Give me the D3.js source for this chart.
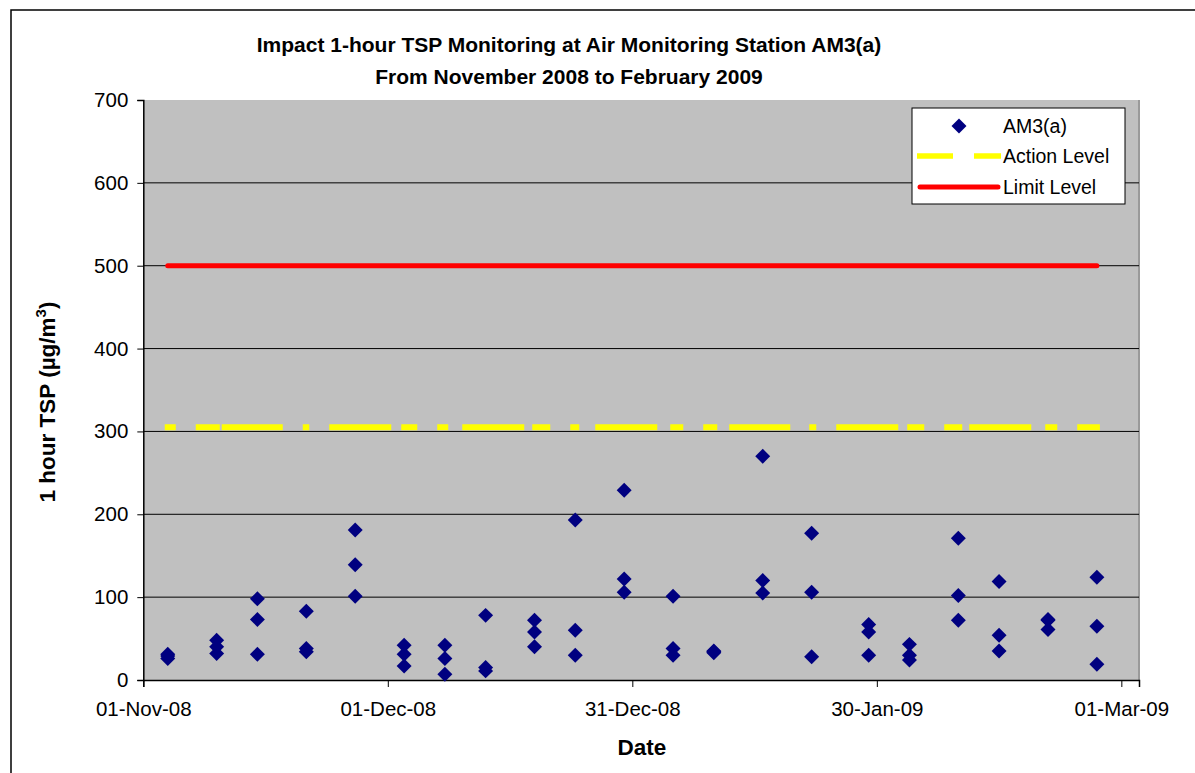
<!DOCTYPE html>
<html>
<head>
<meta charset="utf-8">
<script src="https://cdnjs.cloudflare.com/ajax/libs/d3/7.8.5/d3.min.js"></script>
<style>
  body { margin: 0; background: #fff; }
  text { font-family: Arial, "Liberation Sans", sans-serif; }
</style>
</head>
<body>
<div id="chart"></div>
<script>
// sampling dates (3 one-hour readings per day)
const dates = ["2008-11-04", "2008-11-10", "2008-11-15", "2008-11-21", "2008-11-27",
  "2008-12-03", "2008-12-08", "2008-12-13", "2008-12-19", "2008-12-24", "2008-12-30",
  "2009-01-05", "2009-01-10", "2009-01-16", "2009-01-22", "2009-01-29",
  "2009-02-03", "2009-02-09", "2009-02-14", "2009-02-20", "2009-02-26"];
const reading1 = [31, 48, 98, 83, 181, 42, 42, 78, 72, 193, 229, 101, 35, 270, 177, 67, 43, 171, 119, 73, 124];
const reading2 = [29, 40, 73, 38, 139, 31, 26, 15, 58, 60, 122, 38, 34, 120, 106, 58, 30, 102, 54, 72, 65];
const reading3 = [26, 32, 31, 34, 101, 17, 7, 11, 40, 30, 106, 30, 33, 105, 28, 30, 24, 72, 35, 61, 19];
const actionLevel = 305;
const limitLevel = 500;
const yTicks = [0, 100, 200, 300, 400, 500, 600, 700];
const xTicks = ["2008-11-01", "2008-12-01", "2008-12-31", "2009-01-30", "2009-03-01"];

const W = 1195, H = 773;
const margin = {left: 143.3, top: 100, right: 1139, bottom: 680};

const svg = d3.select("#chart").append("svg")
    .attr("width", W)
    .attr("height", H);

// outer frame
svg.append("rect")
    .attr("x", 11).attr("y", 10)
    .attr("width", 1300).attr("height", 900)
    .attr("fill", "#fff")
    .attr("stroke", "#000")
    .attr("stroke-width", 1.5);

const parse = d3.utcParse("%Y-%m-%d");
const x = d3.scaleUtc()
    .domain([parse("2008-11-01"), new Date(Date.UTC(2009, 2, 3, 4))])
    .range([margin.left, margin.right]);
const y = d3.scaleLinear()
    .domain([0, 700])
    .range([margin.bottom, margin.top]);

// plot area
svg.append("rect")
    .attr("x", margin.left).attr("y", margin.top)
    .attr("width", margin.right - margin.left)
    .attr("height", margin.bottom - margin.top)
    .attr("fill", "#c0c0c0");
svg.append("line")
    .attr("x1", margin.right).attr("x2", margin.right)
    .attr("y1", margin.top).attr("y2", margin.bottom)
    .attr("stroke", "#9a9a9a").attr("stroke-width", 2);

// gridlines
svg.append("g")
    .selectAll("line")
    .data(yTicks.filter(d => d > 0 && d < 700))
    .join("line")
    .attr("x1", margin.left).attr("x2", margin.right)
    .attr("y1", d => y(d)).attr("y2", d => y(d))
    .attr("stroke", "#000").attr("stroke-width", 1);

// y axis
const yAxis = svg.append("g")
    .attr("transform", `translate(${margin.left},0)`)
    .call(d3.axisLeft(y).tickValues(yTicks).tickSize(6).tickPadding(9).tickFormat(d3.format("d")));
yAxis.select(".domain").attr("stroke", "#000").attr("stroke-width", 1.5);
yAxis.selectAll("text").attr("font-size", 20.5).attr("fill", "#000")
    .style("font-family", "Arial, 'Liberation Sans', sans-serif");

// x axis
const xAxis = svg.append("g")
    .attr("transform", `translate(0,${margin.bottom})`)
    .call(d3.axisBottom(x).tickValues(xTicks.map(parse)).tickSize(7).tickPadding(14)
        .tickFormat(d3.utcFormat("%d-%b-%y")));
xAxis.select(".domain").attr("stroke", "#000").attr("stroke-width", 1.5);
xAxis.selectAll("text").attr("font-size", 20.5).attr("fill", "#000")
    .style("font-family", "Arial, 'Liberation Sans', sans-serif");

// level lines
const levelLine = d3.line().x(d => x(d[0])).y(d => y(d[1]));
const first = parse(dates[0]), last = parse(dates[dates.length - 1]);

svg.append("path")
    .attr("d", levelLine([[first, actionLevel], [last, actionLevel]]))
    .attr("fill", "none")
    .attr("stroke", "#ffff00")
    .attr("stroke-width", 6)
    .attr("stroke-linecap", "square")
    .attr("stroke-dasharray", "5,26,18,8,55,26,0.5,26,56,16,10,26,5,20,56,14,12,26,3,22,56,19,7,26,8,18,55,25,1,26,56,15,11,26,12,13,56,20,6,26,18,200");

svg.append("path")
    .attr("d", levelLine([[first, limitLevel], [last, limitLevel]]))
    .attr("fill", "none")
    .attr("stroke", "#ff0000")
    .attr("stroke-width", 5)
    .attr("stroke-linecap", "round");

// readings
const points = [];
dates.forEach((d, i) => {
    [reading1[i], reading2[i], reading3[i]].forEach(v => points.push({date: parse(d), value: v}));
});
const diamond = d3.symbol().type(d3.symbolSquare).size(112);
svg.append("g")
    .selectAll("path")
    .data(points)
    .join("path")
    .attr("d", diamond)
    .attr("transform", d => `translate(${x(d.date)},${y(d.value)}) rotate(45)`)
    .attr("fill", "#000080");

// titles
const title = svg.append("text")
    .attr("x", 569).attr("text-anchor", "middle")
    .attr("font-size", 21).attr("font-weight", "bold");
title.append("tspan").attr("x", 569).attr("y", 52).text("Impact 1-hour TSP Monitoring at Air Monitoring Station AM3(a)");
title.append("tspan").attr("x", 569).attr("y", 84).text("From November 2008 to February 2009");

svg.append("text")
    .attr("x", 642).attr("y", 755)
    .attr("text-anchor", "middle")
    .attr("font-size", 22.5).attr("font-weight", "bold")
    .text("Date");

const yTitle = svg.append("text")
    .attr("transform", `translate(55,${(margin.top + margin.bottom) / 2 + 12}) rotate(-90)`)
    .attr("text-anchor", "middle")
    .attr("font-size", 22.5).attr("font-weight", "bold");
yTitle.append("tspan").text("1 hour TSP (µg/m");
yTitle.append("tspan").attr("font-size", 15).attr("dy", -9).text("3");
yTitle.append("tspan").attr("dy", 9).text(")");

// legend
const legend = svg.append("g");
legend.append("rect")
    .attr("x", 912).attr("y", 108)
    .attr("width", 213).attr("height", 96)
    .attr("fill", "#fff").attr("stroke", "#000").attr("stroke-width", 1);
legend.append("path")
    .attr("d", diamond)
    .attr("transform", "translate(959,126) rotate(45)")
    .attr("fill", "#000080");
legend.append("line")
    .attr("x1", 917).attr("x2", 1001).attr("y1", 156).attr("y2", 156)
    .attr("stroke", "#ffff00").attr("stroke-width", 5.5)
    .attr("stroke-dasharray", "36,21");
legend.append("line")
    .attr("x1", 920).attr("x2", 998).attr("y1", 187).attr("y2", 187)
    .attr("stroke", "#ff0000").attr("stroke-width", 5).attr("stroke-linecap", "round");
const legendLabels = ["AM3(a)", "Action Level", "Limit Level"];
legend.selectAll("text.lab")
    .data(legendLabels)
    .join("text")
    .attr("class", "lab")
    .attr("x", 1003)
    .attr("y", (d, i) => 126 + i * 30.5)
    .attr("dy", "0.35em")
    .attr("font-size", 19.5)
    .text(d => d);
</script>
</body>
</html>
